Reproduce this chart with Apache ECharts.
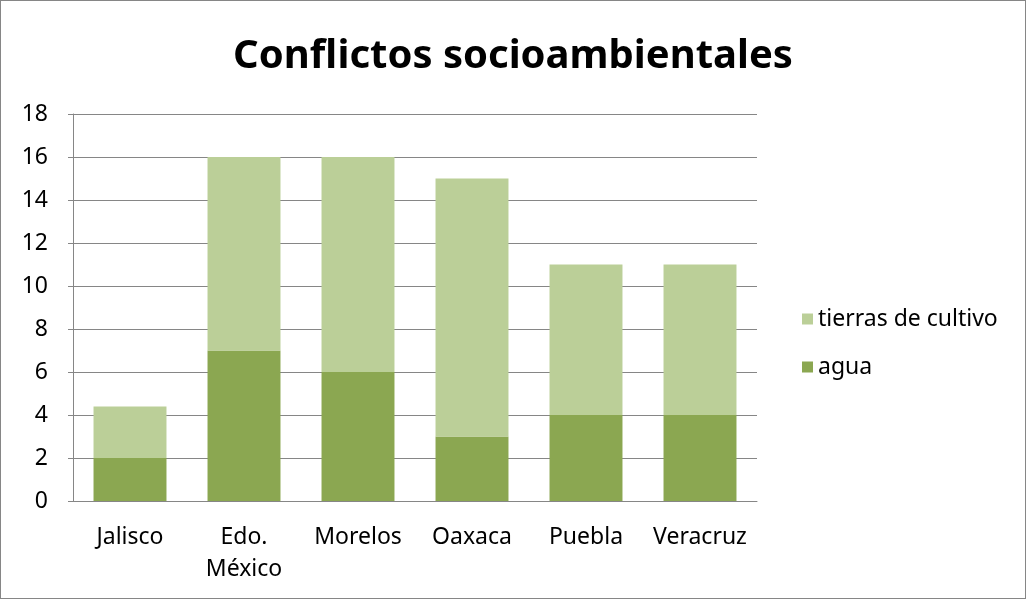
<!DOCTYPE html>
<html>
<head>
<meta charset="utf-8">
<script src="https://cdn.jsdelivr.net/npm/echarts@6/dist/echarts.min.js"></script>
<style>
  html, body { margin: 0; padding: 0; background: #fff; }
  #chart { width: 1026px; height: 599px; box-sizing: border-box; border: 1px solid #868686; }
</style>
</head>
<body>
<div id="chart"></div>
<script>
const categories = ['Jalisco', 'Edo.\nMéxico', 'Morelos', 'Oaxaca', 'Puebla', 'Veracruz'];
const agua = [2, 7, 6, 3, 4, 4];
const tierras = [2.4, 9, 10, 12, 7, 7];
const yTicks = { min: 0, max: 18, interval: 2 };

const chart = echarts.init(document.getElementById('chart'));
const font = "'Noto Sans', 'Open Sans', sans-serif";

chart.setOption({
  animation: false,
  title: {
    text: 'Conflictos socioambientales',
    left: 'center',
    top: 31,
    textStyle: { fontFamily: font, fontSize: 40, fontWeight: 'bold', color: '#000' }
  },
  legend: {
    data: ['tierras de cultivo', 'agua'],
    orient: 'vertical',
    left: 796,
    top: 301,
    itemWidth: 11,
    itemHeight: 11,
    itemGap: 24,
    icon: 'rect',
    textStyle: { fontFamily: font, fontSize: 23, color: '#000', lineHeight: 24 }
  },
  grid: { left: 72, top: 113, width: 684, height: 387 },
  xAxis: {
    type: 'category',
    data: categories,
    axisLine: { lineStyle: { color: '#868686', width: 1 } },
    axisTick: { show: false },
    axisLabel: { interval: 0, fontFamily: font, fontSize: 23, color: '#000', margin: 20, lineHeight: 32 }
  },
  yAxis: {
    type: 'value',
    min: yTicks.min,
    max: yTicks.max,
    interval: yTicks.interval,
    axisLine: { show: true, lineStyle: { color: '#868686', width: 1 } },
    axisTick: { show: true, length: 5, lineStyle: { color: '#868686' } },
    splitLine: { lineStyle: { color: '#868686', width: 1 } },
    axisLabel: { fontFamily: font, fontSize: 23, color: '#000', margin: 25 }
  },
  series: [
    {
      name: 'agua',
      type: 'bar',
      stack: 'total',
      barWidth: '64%',
      data: agua,
      itemStyle: { color: '#8BA751' }
    },
    {
      name: 'tierras de cultivo',
      type: 'bar',
      stack: 'total',
      data: tierras,
      itemStyle: { color: '#BBCF98' }
    }
  ]
});
</script>
</body>
</html>
